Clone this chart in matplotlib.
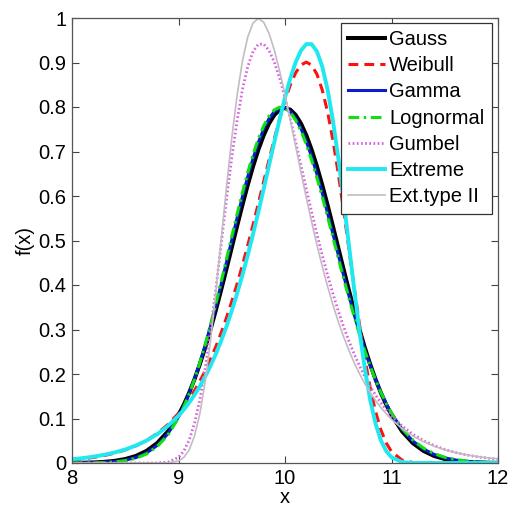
import numpy as np
import matplotlib
matplotlib.use('Agg')
import matplotlib.pyplot as plt
from matplotlib.ticker import FuncFormatter

plt.rcParams['font.family'] = ['Liberation Sans', 'DejaVu Sans']

# sample positions: coarse in the tails, finer around the peaks
x = np.round(np.concatenate([np.arange(8.0, 8.95, 0.1),
                             np.arange(9.0, 11.001, 0.05),
                             np.arange(11.1, 12.05, 0.1)]), 2)

gauss = [0.0003, 0.0006, 0.0012, 0.0025, 0.0048, 0.0089, 0.0158, 0.0272, 0.0448, 0.0709,
         0.1080, 0.1312, 0.1579, 0.1881, 0.2218, 0.2590, 0.2995, 0.3428, 0.3884, 0.4356,
         0.4839, 0.5321, 0.5794, 0.6245, 0.6664, 0.7041, 0.7365, 0.7628, 0.7821, 0.7939,
         0.7979,
         0.7939, 0.7821, 0.7628, 0.7365, 0.7041, 0.6664, 0.6245, 0.5794, 0.5321, 0.4839,
         0.4356, 0.3884, 0.3428, 0.2995, 0.2590, 0.2218, 0.1881, 0.1579, 0.1312, 0.1080,
         0.0709, 0.0448, 0.0272, 0.0158, 0.0089, 0.0048, 0.0025, 0.0012, 0.0006, 0.0003]

weibull = [0.0069, 0.0093, 0.0124, 0.0166, 0.0221, 0.0293, 0.0386, 0.0508, 0.0664, 0.0864,
           0.1118, 0.1269, 0.1438, 0.1627, 0.1837, 0.2071, 0.2329, 0.2612, 0.2923, 0.3262,
           0.3629, 0.4023, 0.4445, 0.4890, 0.5355, 0.5836, 0.6325, 0.6812, 0.7288, 0.7737,
           0.8146,
           0.8496, 0.8769, 0.8946, 0.9008, 0.8942, 0.8736, 0.8382, 0.7884, 0.7254, 0.6508,
           0.5684, 0.4811, 0.3938, 0.3104, 0.2345, 0.1690, 0.1157, 0.0747, 0.0452, 0.0255,
           0.0063, 0.0011, 0.0001, 0.0, 0.0, 0.0, 0.0, 0.0, 0.0, 0.0]

gamma = [0.0001, 0.0002, 0.0006, 0.0014, 0.0030, 0.0063, 0.0122, 0.0226, 0.0395, 0.0657,
         0.1038, 0.1282, 0.1562, 0.1883, 0.2241, 0.2638, 0.3067, 0.3527, 0.4008, 0.4506,
         0.5006, 0.5502, 0.5981, 0.6431, 0.6844, 0.7205, 0.7506, 0.7739, 0.7897, 0.7977,
         0.7977,
         0.7898, 0.7743, 0.7517, 0.7227, 0.6882, 0.6492, 0.6066, 0.5616, 0.5151, 0.4683,
         0.4218, 0.3765, 0.3332, 0.2922, 0.2541, 0.2190, 0.1872, 0.1586, 0.1333, 0.1111,
         0.0753, 0.0494, 0.0314, 0.0193, 0.0115, 0.0067, 0.0038, 0.0021, 0.0011, 0.0006]

lognormal = [0.0001, 0.0002, 0.0004, 0.0010, 0.0024, 0.0052, 0.0106, 0.0203, 0.0368, 0.0628,
             0.1015, 0.1263, 0.1551, 0.1880, 0.2250, 0.2659, 0.3102, 0.3575, 0.4070, 0.4578,
             0.5090, 0.5593, 0.6076, 0.6528, 0.6935, 0.7288, 0.7577, 0.7795, 0.7936, 0.7996,
             0.7976,
             0.7878, 0.7704, 0.7462, 0.7159, 0.6804, 0.6407, 0.5979, 0.5529, 0.5068, 0.4605,
             0.4149, 0.3706, 0.3283, 0.2885, 0.2514, 0.2174, 0.1865, 0.1587, 0.1341, 0.1124,
             0.0772, 0.0516, 0.0335, 0.0212, 0.0130, 0.0078, 0.0046, 0.0026, 0.0014, 0.0008]

gumbel = [0.0, 0.0, 0.0, 0.0, 0.0, 0.0, 0.0, 0.0, 0.0002, 0.0019,
          0.0127, 0.0269, 0.0511, 0.0887, 0.1419, 0.2112, 0.2951, 0.3898, 0.4904, 0.5910,
          0.6857, 0.7695, 0.8387, 0.8907, 0.9248, 0.9413, 0.9414, 0.9270, 0.9006, 0.8645,
          0.8212,
          0.7729, 0.7216, 0.6689, 0.6161, 0.5643, 0.5144, 0.4669, 0.4222, 0.3805, 0.3419,
          0.3065, 0.2741, 0.2446, 0.2180, 0.1939, 0.1722, 0.1528, 0.1355, 0.1200, 0.1062,
          0.0830, 0.0647, 0.0504, 0.0392, 0.0304, 0.0236, 0.0183, 0.0142, 0.0110, 0.0085]

extreme = [0.0085, 0.0110, 0.0142, 0.0183, 0.0236, 0.0304, 0.0392, 0.0504, 0.0647, 0.0830,
           0.1062, 0.1200, 0.1355, 0.1528, 0.1722, 0.1939, 0.2180, 0.2446, 0.2741, 0.3065,
           0.3419, 0.3805, 0.4222, 0.4669, 0.5144, 0.5643, 0.6161, 0.6689, 0.7216, 0.7729,
           0.8212,
           0.8645, 0.9006, 0.9270, 0.9414, 0.9413, 0.9248, 0.8907, 0.8387, 0.7695, 0.6857,
           0.5910, 0.4904, 0.3898, 0.2951, 0.2112, 0.1419, 0.0887, 0.0511, 0.0269, 0.0127,
           0.0019, 0.0002, 0.0, 0.0, 0.0, 0.0, 0.0, 0.0, 0.0, 0.0]

ext_type2 = [0.0, 0.0, 0.0, 0.0, 0.0, 0.0, 0.0, 0.0, 0.0, 0.0003,
             0.0044, 0.0124, 0.0293, 0.0604, 0.1103, 0.1816, 0.2735, 0.3822, 0.4999, 0.6186,
             0.7296, 0.8261, 0.9028, 0.9573, 0.9889, 0.9991, 0.9902, 0.9653, 0.9277, 0.8807,
             0.8275,
             0.7705, 0.7118, 0.6533, 0.5962, 0.5415, 0.4898, 0.4414, 0.3966, 0.3554, 0.3179,
             0.2839, 0.2531, 0.2253, 0.2004, 0.1781, 0.1582, 0.1404, 0.1246, 0.1106, 0.0981,
             0.0772, 0.0607, 0.0478, 0.0377, 0.0297, 0.0235, 0.0186, 0.0148, 0.0117, 0.0093]

x_ticks = [8, 9, 10, 11, 12]
y_ticks = [0, 0.1, 0.2, 0.3, 0.4, 0.5, 0.6, 0.7, 0.8, 0.9, 1]

fig = plt.figure(figsize=(5.10, 5.07), dpi=100)
ax = fig.add_axes([72 / 510, 44 / 507, 426 / 510, 445 / 507])

ax.plot(x, gauss, color='black', lw=2.9, label='Gauss')
ax.plot(x, weibull, color='#ff1010', lw=2.2, ls=(0, (3.2, 2.0)), label='Weibull')
ax.plot(x, gamma, color='#0a1ec8', lw=2.2, label='Gamma')
ax.plot(x, lognormal, color='#10e010', lw=2.2, ls=(0, (3.5, 1.5, 0.8, 1.5)), label='Lognormal')
ax.plot(x, gumbel, color='#d860e0', lw=2.0, ls=(0, (0.6, 0.9)), label='Gumbel')
ax.plot(x, extreme, color='#20e8f0', lw=2.8, label='Extreme')
ax.plot(x, ext_type2, color='#c4bcc4', lw=1.2, label='Ext.type II')

ax.set_xlim(8, 12)
ax.set_ylim(0, 1)
ax.set_xticks(x_ticks)
ax.set_yticks(y_ticks)
ax.yaxis.set_major_formatter(FuncFormatter(lambda v, p: '%g' % v))
ax.tick_params(direction='in', length=5, width=0.8, color='#444444',
               top=True, right=True, labelsize=14.5, pad=4)
for s in ax.spines.values():
    s.set_color('#555555')
    s.set_linewidth(0.9)

ax.set_xlabel('x', fontsize=14.5, labelpad=0)
ax.set_ylabel('f(x)', fontsize=14.5, labelpad=3)

leg = ax.legend(loc='upper right', bbox_to_anchor=(0.985, 0.9894), borderaxespad=0,
                fontsize=14.5, handlelength=1.85, handletextpad=0.2, labelspacing=0.36,
                borderpad=0.36, fancybox=False, framealpha=1, edgecolor='#333333')
leg.get_frame().set_linewidth(0.9)

fig.savefig('out.png', dpi=100)
